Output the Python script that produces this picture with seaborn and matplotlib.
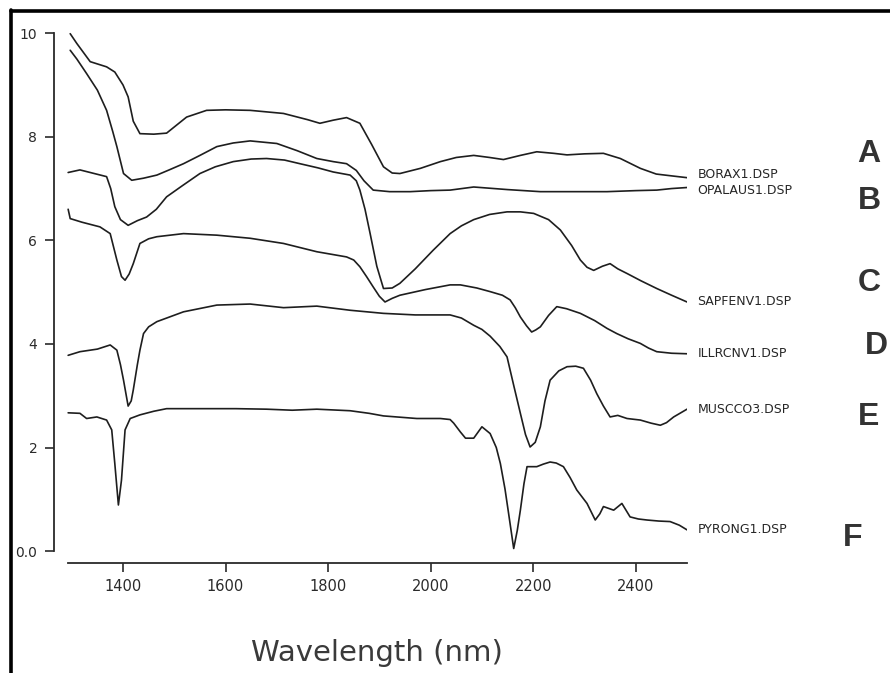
import numpy as np
import pandas as pd
import matplotlib
matplotlib.use("Agg")
import matplotlib.pyplot as plt
from matplotlib.lines import Line2D
import seaborn as sns

# ---------------- data ----------------
borax_wl = [1297, 1310, 1336, 1368, 1384, 1400, 1410, 1420, 1433, 1460, 1485, 1524, 1563, 1600,
            1648, 1713, 1760, 1784, 1810, 1836, 1862, 1885, 1908, 1925, 1940, 1980, 2019, 2050,
            2084, 2115, 2142, 2175, 2207, 2240, 2266, 2300, 2337, 2370, 2409, 2440, 2474, 2500]
borax_val = [9.99, 9.80, 9.45, 9.35, 9.25, 9.00, 8.77, 8.30, 8.06, 8.05, 8.07, 8.38, 8.51, 8.52,
             8.51, 8.45, 8.33, 8.26, 8.32, 8.37, 8.26, 7.85, 7.42, 7.30, 7.29, 7.39, 7.52, 7.60,
             7.64, 7.60, 7.56, 7.64, 7.71, 7.68, 7.65, 7.67, 7.68, 7.58, 7.39, 7.28, 7.24, 7.21]

opal_wl = [1297, 1310, 1329, 1350, 1368, 1380, 1388, 1401, 1417, 1440, 1466, 1490, 1518, 1550,
           1583, 1615, 1648, 1700, 1740, 1778, 1810, 1836, 1855, 1870, 1888, 1920, 1960, 2000,
           2038, 2084, 2150, 2214, 2280, 2344, 2400, 2441, 2470, 2500]
opal_val = [9.67, 9.50, 9.22, 8.90, 8.51, 8.10, 7.81, 7.29, 7.16, 7.20, 7.26, 7.36, 7.48, 7.64,
            7.81, 7.88, 7.92, 7.87, 7.73, 7.58, 7.52, 7.48, 7.35, 7.15, 6.97, 6.94, 6.94, 6.96,
            6.97, 7.03, 6.98, 6.94, 6.94, 6.94, 6.96, 6.97, 7.00, 7.02]

sapf_wl = [1293, 1316, 1340, 1368, 1376, 1384, 1395, 1410, 1428, 1446, 1465, 1485, 1515, 1550,
           1580, 1615, 1650, 1680, 1715, 1745, 1780, 1810, 1843, 1855, 1862, 1872, 1882, 1895,
           1908, 1925, 1940, 1970, 2005, 2038, 2060, 2084, 2115, 2149, 2175, 2201, 2230, 2253,
           2275, 2292, 2305, 2318, 2335, 2350, 2365, 2383, 2410, 2441, 2470, 2500]
sapf_val = [7.31, 7.36, 7.30, 7.23, 7.00, 6.65, 6.40, 6.29, 6.38, 6.45, 6.60, 6.84, 7.05, 7.29,
            7.42, 7.52, 7.57, 7.58, 7.55, 7.48, 7.40, 7.32, 7.26, 7.15, 6.97, 6.60, 6.13, 5.50,
            5.07, 5.08, 5.17, 5.45, 5.81, 6.13, 6.28, 6.40, 6.50, 6.55, 6.55, 6.52, 6.40, 6.20,
            5.90, 5.62, 5.48, 5.42, 5.50, 5.55, 5.45, 5.36, 5.22, 5.07, 4.94, 4.81]

illr_wl = [1293, 1297, 1320, 1355, 1375, 1388, 1397, 1404, 1412, 1420, 1433, 1450, 1466, 1518,
           1583, 1648, 1713, 1778, 1836, 1850, 1862, 1875, 1888, 1900, 1911, 1925, 1940, 1990,
           2038, 2058, 2090, 2116, 2140, 2155, 2165, 2175, 2187, 2197, 2205, 2214, 2230, 2246,
           2265, 2292, 2320, 2344, 2363, 2385, 2409, 2425, 2441, 2470, 2500]
illr_val = [6.60, 6.42, 6.35, 6.26, 6.13, 5.62, 5.30, 5.23, 5.35, 5.55, 5.94, 6.03, 6.07, 6.13,
            6.10, 6.04, 5.94, 5.78, 5.68, 5.62, 5.49, 5.30, 5.10, 4.92, 4.81, 4.88, 4.94, 5.05,
            5.14, 5.14, 5.08, 5.01, 4.94, 4.85, 4.70, 4.52, 4.35, 4.23, 4.27, 4.33, 4.55, 4.72,
            4.68, 4.59, 4.45, 4.30, 4.20, 4.10, 4.01, 3.92, 3.85, 3.82, 3.81]

musc_wl = [1293, 1316, 1350, 1375, 1388, 1395, 1401, 1410, 1416, 1420, 1428, 1433, 1440, 1450,
           1466, 1518, 1583, 1648, 1713, 1778, 1843, 1908, 1970, 2038, 2060, 2084, 2100, 2116,
           2135, 2149, 2162, 2175, 2185, 2194, 2204, 2214, 2223, 2233, 2250, 2266, 2283, 2298,
           2312, 2324, 2337, 2350, 2365, 2383, 2409, 2430, 2448, 2460, 2474, 2500]
musc_val = [3.78, 3.85, 3.90, 3.98, 3.88, 3.60, 3.30, 2.80, 2.90, 3.11, 3.60, 3.88, 4.20, 4.33,
            4.43, 4.62, 4.75, 4.77, 4.70, 4.73, 4.65, 4.59, 4.56, 4.56, 4.50, 4.36, 4.28, 4.15,
            3.95, 3.75, 3.20, 2.66, 2.25, 2.01, 2.10, 2.40, 2.90, 3.30, 3.48, 3.56, 3.57, 3.53,
            3.30, 3.04, 2.80, 2.59, 2.62, 2.56, 2.53, 2.47, 2.43, 2.48, 2.59, 2.74]

pyro_wl = [1293, 1316, 1329, 1349, 1368, 1378, 1384, 1391, 1397, 1404, 1414, 1433, 1460, 1485,
           1550, 1620, 1680, 1730, 1778, 1843, 1880, 1908, 1973, 2019, 2038, 2045, 2058, 2068,
           2084, 2100, 2116, 2128, 2136, 2145, 2152, 2162, 2169, 2175, 2182, 2188, 2207, 2220,
           2233, 2245, 2259, 2272, 2285, 2305, 2321, 2330, 2337, 2357, 2373, 2389, 2405, 2422,
           2445, 2467, 2485, 2500]
pyro_val = [2.67, 2.66, 2.56, 2.59, 2.53, 2.34, 1.69, 0.89, 1.37, 2.34, 2.56, 2.63, 2.70, 2.75,
            2.75, 2.75, 2.74, 2.72, 2.74, 2.71, 2.66, 2.61, 2.56, 2.56, 2.54, 2.47, 2.30, 2.18,
            2.18, 2.40, 2.27, 2.00, 1.69, 1.20, 0.73, 0.05, 0.40, 0.79, 1.30, 1.63, 1.63, 1.68,
            1.72, 1.70, 1.63, 1.42, 1.18, 0.92, 0.60, 0.72, 0.86, 0.79, 0.92, 0.66, 0.62, 0.60,
            0.58, 0.57, 0.50, 0.41]

series_names = ["BORAX1.DSP", "OPALAUS1.DSP", "SAPFENV1.DSP", "ILLRCNV1.DSP", "MUSCCO3.DSP", "PYRONG1.DSP"]
series_wl = [borax_wl, opal_wl, sapf_wl, illr_wl, musc_wl, pyro_wl]
series_val = [borax_val, opal_val, sapf_val, illr_val, musc_val, pyro_val]

panel_letters = ["A", "B", "C", "D", "E", "F"]

x_ticks = [1400, 1600, 1800, 2000, 2200, 2400]
y_ticks = [0, 2, 4, 6, 8, 10]
y_tick_labels = ["0.0", "2", "4", "6", "8", "10"]
x_label = "Wavelength (nm)"

# ---------------- figure ----------------
sns.set_style("white")
plt.rcParams["font.family"] = ["DejaVu Sans"]

W, H = 890, 673
fig = plt.figure(figsize=(W / 100, H / 100), dpi=100)
fig.patch.set_facecolor("white")

# axes box in pixels: left spine x=54, right end x=687, bottom spine y=563, top y=28
ax = fig.add_axes([54 / W, (H - 563) / H, (687 - 54) / W, (563 - 28) / H])
ax.set_facecolor("white")

frames = []
for name, wl, val in zip(series_names, series_wl, series_val):
    frames.append(pd.DataFrame({"wl": wl, "val": val, "name": name}))
df = pd.concat(frames, ignore_index=True)

# small vertical nudges (points) so the two tightly stacked end labels don't collide
label_nudge = [2.5, -2.5, 0, 0, 0, 0]

line_color = "#1e1e1e"
for name, dy in zip(series_names, label_nudge):
    sub = df[df["name"] == name]
    sns.lineplot(data=sub, x="wl", y="val", ax=ax, color=line_color, lw=1.2,
                 estimator=None, legend=False)
    ax.annotate(name, xy=(sub["wl"].iloc[-1], sub["val"].iloc[-1]),
                xytext=(7.5, dy), textcoords="offset points",
                ha="left", va="center", fontsize=9, color="#262626",
                annotation_clip=False)

ax.set_xlim(1265.4, 2500)
ax.set_ylim(-0.23, 10.1)

sns.despine(ax=ax)
spine_color = "#2a2a2a"
for s in ("left", "bottom"):
    ax.spines[s].set_color(spine_color)
    ax.spines[s].set_linewidth(1.3)
ax.spines["left"].set_bounds(0, 10)
ax.spines["bottom"].set_bounds(1293, 2500)

ax.set_xticks(x_ticks)
ax.set_yticks(y_ticks)
ax.set_yticklabels(y_tick_labels)
ax.tick_params(axis="both", direction="out", length=6.5, width=1.2, color=spine_color,
               labelcolor="#2a2a2a", labelsize=10.5, bottom=True, left=True)
ax.tick_params(axis="x", pad=5)
ax.tick_params(axis="y", pad=5.5, labelsize=10)

ax.set_xlabel(x_label, fontsize=21, color="#3a3a3a")
ax.set_ylabel("")
ax.xaxis.label.set_va("center")
ax.xaxis.set_label_coords((377 - 54) / 633, (563 - 653) / 535)

# panel letters A-F (figure pixel positions)
letter_pos = [(869, 154), (869, 201), (869, 283), (876, 346), (869, 417), (853, 538)]
for letter, (px, py) in zip(panel_letters, letter_pos):
    fig.text(px / W, 1 - py / H, letter, ha="center", va="center", fontsize=23,
             fontweight="bold", family=["Liberation Sans", "DejaVu Sans"], color="#333333")

# outer frame (top and left edges of the scanned border)
fig.add_artist(Line2D([11 / W, 1.0], [1 - 11 / H, 1 - 11 / H], transform=fig.transFigure,
                      color="black", lw=2.6))
fig.add_artist(Line2D([11 / W, 11 / W], [1 - 10 / H, 0.0], transform=fig.transFigure,
                      color="black", lw=2.6))

fig.savefig("out.png", dpi=100, facecolor="white")
